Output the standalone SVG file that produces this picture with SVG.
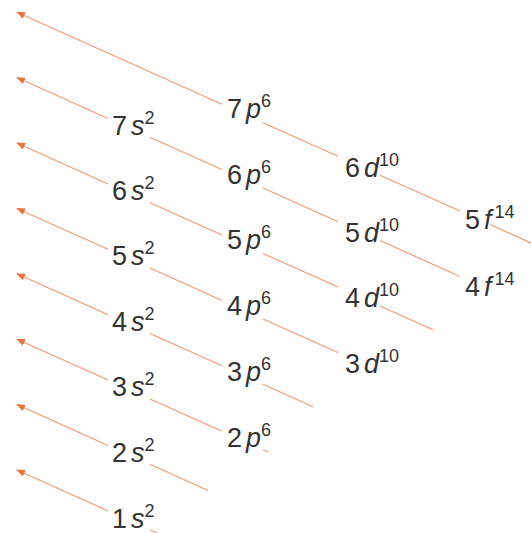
<svg xmlns="http://www.w3.org/2000/svg" width="531" height="533" viewBox="0 0 531 533">
<style>
.c line{stroke:#f09a78;stroke-width:1.15;fill:none}
.a{marker-end:url(#ah)}
text{font-family:"Liberation Sans",Arial,sans-serif;font-size:27px;fill:#333333}
.i{font-style:italic}
.sp{font-size:18px}
</style>
<defs>
<marker id="ah" markerUnits="userSpaceOnUse" markerWidth="9" markerHeight="7" refX="8" refY="3.5" orient="auto">
<path d="M0,0 L9,3.5 L0,7 Z" fill="#e8743b"/>
</marker>
</defs>
<rect width="531" height="533" fill="#ffffff"/>
<g id="connectors" class="c">
<line class="a" x1="108" y1="510.9" x2="17" y2="470"/>
<line x1="150" y1="529.7" x2="157" y2="532.9"/>
<line class="a" x1="108" y1="445.5" x2="17" y2="404.6"/>
<line x1="150" y1="464.3" x2="208" y2="490.4"/>
<line class="a" x1="108" y1="380.1" x2="17" y2="339.2"/>
<line x1="150" y1="398.9" x2="222" y2="431.2"/>
<line x1="263" y1="449.7" x2="268" y2="451.9"/>
<line class="a" x1="108" y1="314.7" x2="17" y2="273.8"/>
<line x1="150" y1="333.5" x2="222" y2="365.8"/>
<line x1="263" y1="384.3" x2="313" y2="406.7"/>
<line class="a" x1="108" y1="249.3" x2="17" y2="208.4"/>
<line x1="150" y1="268.1" x2="222" y2="300.4"/>
<line x1="263" y1="318.9" x2="338" y2="352.5"/>
<line class="a" x1="108" y1="183.9" x2="17" y2="143"/>
<line x1="150" y1="202.7" x2="222" y2="235"/>
<line x1="263" y1="253.5" x2="338" y2="287.1"/>
<line x1="380" y1="306" x2="433" y2="329.8"/>
<line class="a" x1="108" y1="118.5" x2="17" y2="77.6"/>
<line x1="150" y1="137.3" x2="222" y2="169.6"/>
<line x1="263" y1="188.1" x2="338" y2="221.7"/>
<line x1="380" y1="240.6" x2="460" y2="276.5"/>
<line class="a" x1="222" y1="104.2" x2="17" y2="12.2"/>
<line x1="263" y1="122.7" x2="338" y2="156.3"/>
<line x1="380" y1="175.2" x2="460" y2="211.1"/>
<line x1="490" y1="224.6" x2="535" y2="244.8"/>
</g>
<g id="n1s"><text x="112" y="528">1<tspan class="i" dx="4">s</tspan><tspan class="sp" dy="-11">2</tspan></text></g>
<g id="n2s"><text x="112" y="462">2<tspan class="i" dx="4">s</tspan><tspan class="sp" dy="-11">2</tspan></text></g>
<g id="n3s"><text x="112" y="396">3<tspan class="i" dx="4">s</tspan><tspan class="sp" dy="-11">2</tspan></text></g>
<g id="n4s"><text x="112" y="331">4<tspan class="i" dx="4">s</tspan><tspan class="sp" dy="-11">2</tspan></text></g>
<g id="n5s"><text x="112" y="265">5<tspan class="i" dx="4">s</tspan><tspan class="sp" dy="-11">2</tspan></text></g>
<g id="n6s"><text x="112" y="200">6<tspan class="i" dx="4">s</tspan><tspan class="sp" dy="-11">2</tspan></text></g>
<g id="n7s"><text x="112" y="135">7<tspan class="i" dx="4">s</tspan><tspan class="sp" dy="-11">2</tspan></text></g>
<g id="n2p"><text x="227" y="447">2<tspan class="i" dx="4">p</tspan><tspan class="sp" dy="-11">6</tspan></text></g>
<g id="n3p"><text x="227" y="381">3<tspan class="i" dx="4">p</tspan><tspan class="sp" dy="-11">6</tspan></text></g>
<g id="n4p"><text x="227" y="315">4<tspan class="i" dx="4">p</tspan><tspan class="sp" dy="-11">6</tspan></text></g>
<g id="n5p"><text x="227" y="249">5<tspan class="i" dx="4">p</tspan><tspan class="sp" dy="-11">6</tspan></text></g>
<g id="n6p"><text x="227" y="184">6<tspan class="i" dx="4">p</tspan><tspan class="sp" dy="-11">6</tspan></text></g>
<g id="n7p"><text x="227" y="118">7<tspan class="i" dx="4">p</tspan><tspan class="sp" dy="-11">6</tspan></text></g>
<g id="n3d"><text x="345" y="373">3<tspan class="i" dx="4">d</tspan><tspan class="sp" dy="-11">10</tspan></text></g>
<g id="n4d"><text x="345" y="307">4<tspan class="i" dx="4">d</tspan><tspan class="sp" dy="-11">10</tspan></text></g>
<g id="n5d"><text x="345" y="242">5<tspan class="i" dx="4">d</tspan><tspan class="sp" dy="-11">10</tspan></text></g>
<g id="n6d"><text x="345" y="177">6<tspan class="i" dx="4">d</tspan><tspan class="sp" dy="-11">10</tspan></text></g>
<g id="n4f"><text x="465" y="296">4<tspan class="i" dx="4">f</tspan><tspan class="sp" dx="3" dy="-11">14</tspan></text></g>
<g id="n5f"><text x="465" y="229">5<tspan class="i" dx="4">f</tspan><tspan class="sp" dx="3" dy="-11">14</tspan></text></g>
</svg>
